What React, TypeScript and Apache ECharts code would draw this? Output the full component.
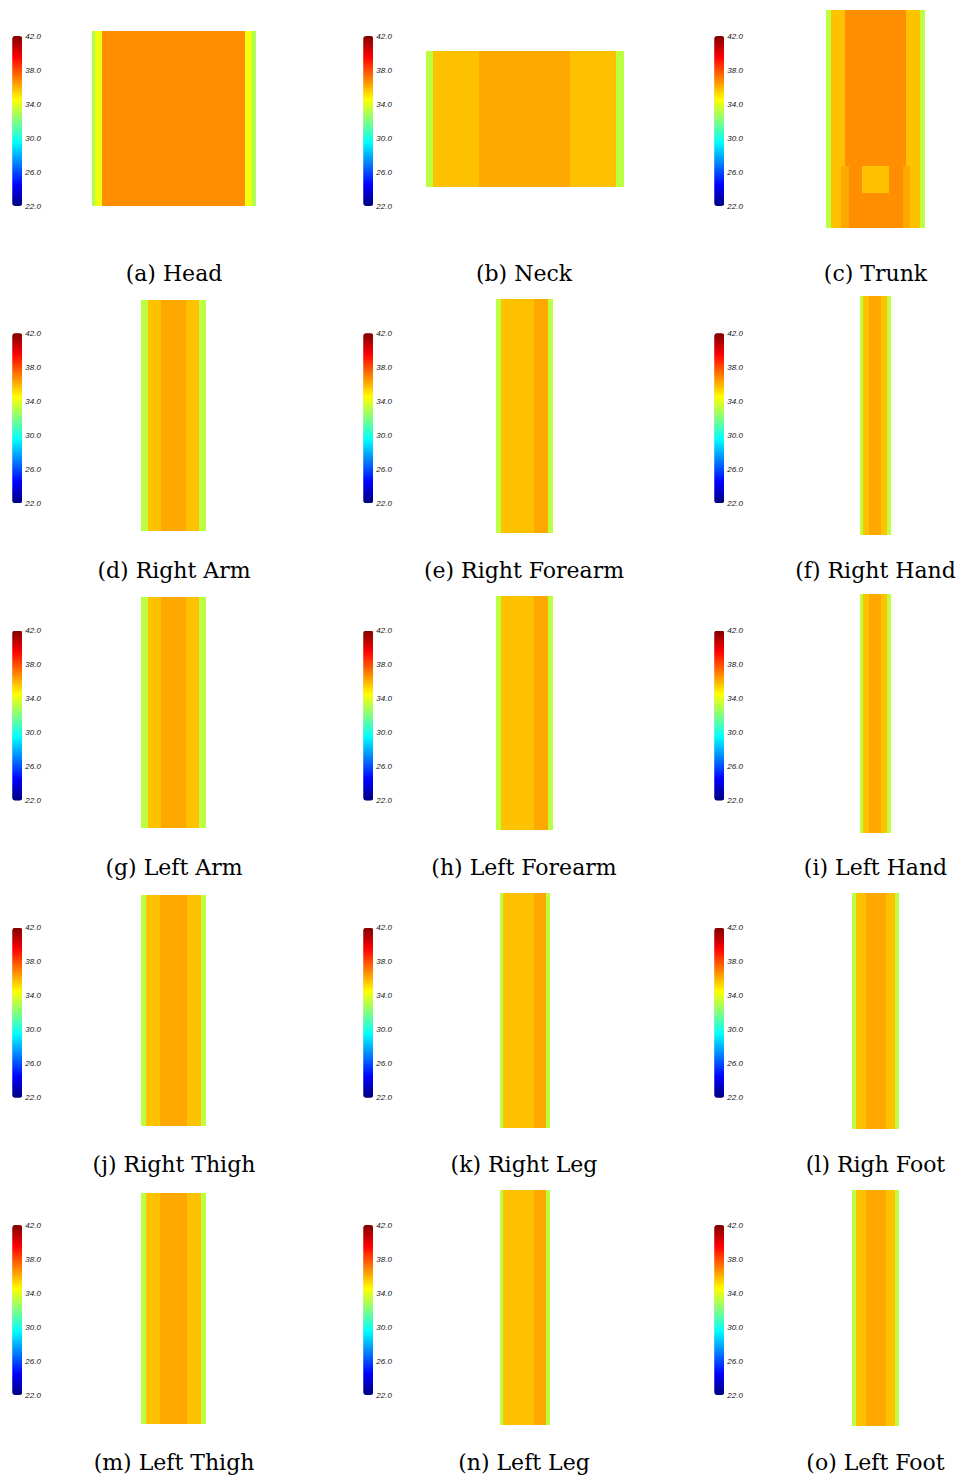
import React, { useEffect, useRef } from "react";
import * as echarts from "echarts";

// ---------- DATA ----------
// Colour scale of every panel (°C)
const scaleMin = 22;
const scaleMax = 42;
const scaleStep = 4;

const captions = [
  "(a) Head", "(b) Neck", "(c) Trunk",
  "(d) Right Arm", "(e) Right Forearm", "(f) Right Hand",
  "(g) Left Arm", "(h) Left Forearm", "(i) Left Hand",
  "(j) Right Thigh", "(k) Right Leg", "(l) Righ Foot",
  "(m) Left Thigh", "(n) Left Leg", "(o) Left Foot",
];

// Temperature profiles across each segment: [temperature °C, number of cells]
const headColumns: [number, number][] = [[32.9, 1], [34.2, 2], [36.7, 43], [34.2, 2], [32.9, 1]];
const neckColumns: [number, number][] = [[33.2, 4], [35.7, 25], [36.2, 50], [35.7, 25], [33.2, 4]];
const trunkTopColumns: [number, number][] = [[33.2, 4], [35.7, 11], [36.7, 50], [35.7, 11], [33.2, 4]];
const trunkBandColumns: [number, number][] = [[33.2, 4], [35.7, 8], [36.2, 6], [36.7, 11], [35.7, 22], [36.7, 11], [36.2, 6], [35.7, 8], [33.2, 4]];
const trunkBottomColumns: [number, number][] = [[33.2, 4], [35.7, 8], [36.2, 6], [36.7, 44], [36.2, 6], [35.7, 8], [33.2, 4]];
const armColumns: [number, number][] = [[33.2, 1], [35.7, 2], [36.2, 4], [35.7, 2], [33.2, 1]];
const forearmColumns: [number, number][] = [[33.2, 1], [35.7, 7], [36.2, 3], [33.2, 1]];
const handColumns: [number, number][] = [[33.2, 1], [35.7, 2], [36.2, 4], [35.7, 2], [33.2, 1]];
const thighColumns: [number, number][] = [[33.2, 3], [35.7, 10], [36.2, 19], [35.7, 10], [33.2, 3]];
const legColumns: [number, number][] = [[33.2, 1], [35.7, 10], [36.2, 4], [33.2, 1]];
const footColumns: [number, number][] = [[33.2, 1], [35.7, 3], [36.2, 6], [35.7, 3], [33.2, 1]];

// Row structure of each segment (top to bottom): [column profile, number of rows]
const headRows: [[number, number][], number][] = [[headColumns, 1]];
const neckRows: [[number, number][], number][] = [[neckColumns, 1]];
const trunkRows: [[number, number][], number][] = [[trunkTopColumns, 18], [trunkBandColumns, 3], [trunkBottomColumns, 4]];
const armRows: [[number, number][], number][] = [[armColumns, 1]];
const forearmRows: [[number, number][], number][] = [[forearmColumns, 1]];
const handRows: [[number, number][], number][] = [[handColumns, 1]];
const thighRows: [[number, number][], number][] = [[thighColumns, 1]];
const legRows: [[number, number][], number][] = [[legColumns, 1]];
const footRows: [[number, number][], number][] = [[footColumns, 1]];

const panelRows = [
  headRows, neckRows, trunkRows,
  armRows, forearmRows, handRows,
  armRows, forearmRows, handRows,
  thighRows, legRows, footRows,
  thighRows, legRows, footRows,
];

// ---------- LAYOUT (pixels) ----------
const ROW_PITCH = 297.25;
const BAR_X = [12.3, 363.3, 714.3];
const BAR_TOP = 36;
const BAR_W = 10;
const BAR_H = 170;
const CAPTION_X = [174, 524, 875.5];
const CAPTION_Y = 273;

const boxRow = (b: number[], dy: number) => [b[0], b[1] + dy, b[2], b[3] + dy];
const baseBoxes: number[][] = [
  [92, 31, 255.7, 206],
  [426, 51, 623.3, 186.7],
  [826.7, 10, 925, 227.7],
  [141.7, 300, 206, 530.7],
  [496.7, 299, 552.7, 532.3],
  [860.7, 296.7, 890.7, 535],
];
const row4Boxes: number[][] = [
  [141.7, 895.5, 206, 1126],
  [500, 893.3, 549.3, 1127.3],
  [852.7, 893.3, 899, 1128.3],
];
const panelBoxes: number[][] = [
  ...baseBoxes,
  ...baseBoxes.slice(3).map((b) => boxRow(b, ROW_PITCH)),
  ...row4Boxes,
  ...row4Boxes.map((b) => boxRow(b, ROW_PITCH)),
];

const JET = ["#00007f", "#0000ff", "#007fff", "#00ffff", "#7fff7f", "#ffff00", "#ff7f00", "#ff0000", "#7f0000"];

function expandRuns(runs: [number, number][]): number[] {
  const out: number[] = [];
  runs.forEach(([v, n]) => {
    for (let k = 0; k < n; k++) out.push(v);
  });
  return out;
}

function buildCells(rows: [[number, number][], number][]) {
  const profiles: number[][] = [];
  rows.forEach(([cols, n]) => {
    const p = expandRuns(cols);
    for (let k = 0; k < n; k++) profiles.push(p);
  });
  const cells: number[][] = [];
  profiles.forEach((p, r) => p.forEach((v, c) => cells.push([c, r, v])));
  return { cells, nCols: profiles[0].length, nRows: profiles.length };
}

export default function App() {
  const ref = useRef<HTMLDivElement>(null);

  useEffect(() => {
    if (!ref.current) return;
    const chart = echarts.init(ref.current, undefined, { renderer: "svg" });

    const grids: any[] = [];
    const xAxes: any[] = [];
    const yAxes: any[] = [];
    const series: any[] = [];
    const visualMaps: any[] = [];
    const graphics: any[] = [];

    panelRows.forEach((rows, i) => {
      const { cells, nCols, nRows } = buildCells(rows);
      const [x0, y0, x1, y1] = panelBoxes[i];
      grids.push({ left: x0, top: y0, width: x1 - x0, height: y1 - y0, containLabel: false });
      xAxes.push({
        type: "category", gridIndex: i, show: false,
        data: Array.from({ length: nCols }, (_, k) => String(k)),
      });
      yAxes.push({
        type: "category", gridIndex: i, show: false, inverse: true,
        data: Array.from({ length: nRows }, (_, k) => String(k)),
      });
      series.push({
        type: "heatmap", xAxisIndex: i, yAxisIndex: i, data: cells,
        emphasis: { disabled: true }, silent: true,
      });
    });

    panelRows.forEach((_, i) => {
      const col = i % 3;
      const row = Math.floor(i / 3);
      const top = BAR_TOP + row * ROW_PITCH;
      visualMaps.push({
        type: "continuous", min: scaleMin, max: scaleMax, seriesIndex: i,
        calculable: false, hoverLink: false, realtime: false,
        itemWidth: BAR_W, itemHeight: BAR_H, left: BAR_X[col], top,
        padding: 0, orient: "vertical", inRange: { color: JET },
      });
      const g = grids.length;
      grids.push({ left: BAR_X[col], top, width: BAR_W, height: BAR_H, containLabel: false });
      xAxes.push({ type: "value", gridIndex: g, show: false });
      yAxes.push({
        type: "value", gridIndex: g, position: "right",
        min: scaleMin, max: scaleMax, interval: scaleStep,
        axisLine: { show: false }, axisTick: { show: false }, splitLine: { show: false },
        axisLabel: {
          formatter: (v: number) => v.toFixed(1),
          fontSize: 8, fontStyle: "italic", color: "#111",
          fontFamily: "Liberation Sans", margin: 3,
        },
      });
      graphics.push({
        type: "text",
        x: CAPTION_X[col],
        y: CAPTION_Y + row * ROW_PITCH,
        style: {
          text: captions[i], fontSize: 22, fontFamily: "DejaVu Serif",
          fill: "#000", align: "center", verticalAlign: "middle",
        },
      });
    });

    chart.setOption({
      animation: false,
      backgroundColor: "#ffffff",
      grid: grids,
      xAxis: xAxes,
      yAxis: yAxes,
      visualMap: visualMaps,
      series,
      graphic: graphics,
    });

    return () => chart.dispose();
  }, []);

  return (
    <>
      <style>{"#chart-root svg path { shape-rendering: crispEdges; }"}</style>
      <div
        id="chart-root"
        ref={ref}
        style={{ position: "absolute", left: 0, top: 0, width: 965, height: 1479, background: "#fff" }}
      />
    </>
  );
}
